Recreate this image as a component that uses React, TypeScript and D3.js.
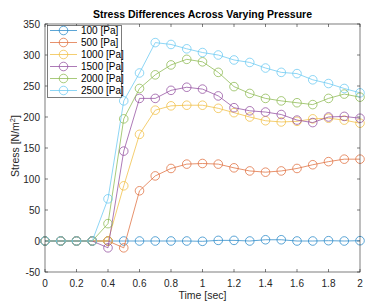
import React, { useRef, useEffect } from "react";
import * as d3 from "d3";

const times = [0, 0.1, 0.2, 0.3, 0.4, 0.5, 0.6, 0.7, 0.8, 0.9, 1.0, 1.1, 1.2, 1.3, 1.4, 1.5, 1.6, 1.7, 1.8, 1.9, 2.0];

const p100 = [0, 0, 0, 0, 0, 0, 0, 0, 0, 0, -0.5, 1, 1, 0, 2, 2, 0, 0, 0.5, 0, 0.5];
const p500 = [0, 0, 0, 0, 0, -11, 81, 105, 117, 124, 125, 124, 118, 113, 111, 113, 117, 123, 128, 132, 132];
const p1000 = [0, 0, 0, 0, 0, 89, 172, 211, 218, 219, 219, 214, 207, 200, 194, 192, 193, 197, 198, 195, 190];
const p1500 = [0, 0, 0, 0, -11, 145, 230, 230, 243, 248, 245, 234, 215, 210, 208, 204, 195, 191, 200, 201, 198];
const p2000 = [0, 0, 0, 0, 28, 197, 246, 268, 284, 293, 289, 272, 249, 238, 230, 226, 223, 220, 230, 237, 232];
const p2500 = [0, 0, 0, 0, 68, 226, 271, 320, 317, 310, 304, 300, 292, 288, 279, 272, 270, 260, 254, 246, 239];

const seriesNames = ["100 [Pa]", "500 [Pa]", "1000 [Pa]", "1500 [Pa]", "2000 [Pa]", "2500 [Pa]"];
const seriesValues = [p100, p500, p1000, p1500, p2000, p2500];
const seriesColors = ["#0072BD", "#D95319", "#EDB120", "#7E2F8E", "#77AC30", "#4DBEEE"];

const xTicks = [0, 0.2, 0.4, 0.6, 0.8, 1, 1.2, 1.4, 1.6, 1.8, 2];
const yTicks = [-50, 0, 50, 100, 150, 200, 250, 300, 350];

const App = () => {
    const chartRef = useRef<HTMLDivElement>(null);

    useEffect(() => {
        const width = 374;
        const height = 308;
        const marginLeft = 45;
        const marginRight = 14;
        const marginTop = 24;
        const marginBottom = 36;
        const font = "'Liberation Sans', Arial, sans-serif";
        const ink = "#262626";
        // the reference is a soft, slightly washed-out raster
        const soft = (c: string) => d3.interpolateRgb(c, "#fff")(0.15);

        const x = d3.scaleLinear().domain([0, 2]).range([marginLeft, width - marginRight]);
        const y = d3.scaleLinear().domain([-50, 350]).range([height - marginBottom, marginTop]);

        const svg = d3.create("svg")
            .attr("width", width)
            .attr("height", height)
            .attr("viewBox", [0, 0, width, height])
            .style("position", "absolute")
            .style("left", "0px")
            .style("top", "0px")
            .style("background", "#fff");

        const x0 = marginLeft, x1 = width - marginRight, y0 = height - marginBottom, y1 = marginTop;

        // ticks inside, on all four sides
        const tl = 3;
        const ticks = svg.append("g").attr("stroke", ink).attr("stroke-width", 0.6);
        xTicks.forEach(t => {
            ticks.append("line").attr("x1", x(t)).attr("x2", x(t)).attr("y1", y0).attr("y2", y0 - tl);
            ticks.append("line").attr("x1", x(t)).attr("x2", x(t)).attr("y1", y1).attr("y2", y1 + tl);
        });
        yTicks.forEach(t => {
            ticks.append("line").attr("x1", x0).attr("x2", x0 + tl).attr("y1", y(t)).attr("y2", y(t));
            ticks.append("line").attr("x1", x1).attr("x2", x1 - tl).attr("y1", y(t)).attr("y2", y(t));
        });

        svg.append("g")
            .selectAll("text")
            .data(xTicks)
            .join("text")
            .attr("x", d => x(d))
            .attr("y", y0 + 15)
            .attr("text-anchor", "middle")
            .attr("fill", ink)
            .style("font", `10px ${font}`)
            .text(d => String(d));

        svg.append("g")
            .selectAll("text")
            .data(yTicks)
            .join("text")
            .attr("x", x0 - 5)
            .attr("y", d => y(d))
            .attr("dy", "0.35em")
            .attr("text-anchor", "end")
            .attr("fill", ink)
            .style("font", `10px ${font}`)
            .text(d => String(d));

        const line = d3.line<number>()
            .x((d, i) => x(times[i]))
            .y(d => y(d));

        seriesValues.forEach((vals, k) => {
            const c = soft(seriesColors[k]);
            const g = svg.append("g");
            g.append("path")
                .datum(vals)
                .attr("fill", "none")
                .attr("stroke", c)
                .attr("stroke-width", 0.75)
                .attr("d", line);
            g.selectAll("circle")
                .data(vals)
                .join("circle")
                .attr("cx", (d, i) => x(times[i]))
                .attr("cy", d => y(d))
                .attr("r", 4.3)
                .attr("fill", "none")
                .attr("stroke", c)
                .attr("stroke-width", 0.75);
        });

        svg.append("rect")
            .attr("x", x0)
            .attr("y", y1)
            .attr("width", x1 - x0)
            .attr("height", y0 - y1)
            .attr("fill", "none")
            .attr("stroke", ink)
            .attr("stroke-width", 0.6);

        // legend
        const lg = svg.append("g");
        lg.append("rect")
            .attr("x", 47.5)
            .attr("y", 25.5)
            .attr("width", 74)
            .attr("height", 72)
            .attr("fill", "#fff")
            .attr("stroke", ink)
            .attr("stroke-width", 0.6);
        seriesNames.forEach((name, k) => {
            const ly = 30.5 + k * 12;
            const c = soft(seriesColors[k]);
            lg.append("line")
                .attr("x1", 50).attr("x2", 77)
                .attr("y1", ly).attr("y2", ly)
                .attr("stroke", c)
                .attr("stroke-width", 0.75);
            lg.append("circle")
                .attr("cx", 63.5).attr("cy", ly).attr("r", 4.3)
                .attr("fill", "none")
                .attr("stroke", c)
                .attr("stroke-width", 0.75);
            lg.append("text")
                .attr("x", 81)
                .attr("y", ly)
                .attr("dy", "0.35em")
                .attr("fill", "#000")
                .style("font", `10px ${font}`)
                .text(name);
        });

        svg.append("text")
            .attr("x", (x0 + x1) / 2)
            .attr("y", 18)
            .attr("text-anchor", "middle")
            .attr("fill", "#000")
            .style("font", `bold 10.5px ${font}`)
            .text("Stress Differences Across Varying Pressure");

        svg.append("text")
            .attr("x", (x0 + x1) / 2)
            .attr("y", y0 + 27)
            .attr("text-anchor", "middle")
            .attr("fill", ink)
            .style("font", `10.5px ${font}`)
            .text("Time [sec]");

        const yl = svg.append("text")
            .attr("transform", `translate(19,${(y0 + y1) / 2 - 2}) rotate(-90)`)
            .attr("text-anchor", "middle")
            .attr("fill", ink)
            .style("font", `10.5px ${font}`);
        yl.append("tspan").text("Stress [N/m");
        yl.append("tspan").attr("dy", -4).style("font-size", "7.5px").text("2");
        yl.append("tspan").attr("dy", 4).text("]");

        chartRef.current!.innerHTML = "";
        chartRef.current!.appendChild(svg.node()!);
    }, []);

    return <div ref={chartRef} />;
};

export default App;
